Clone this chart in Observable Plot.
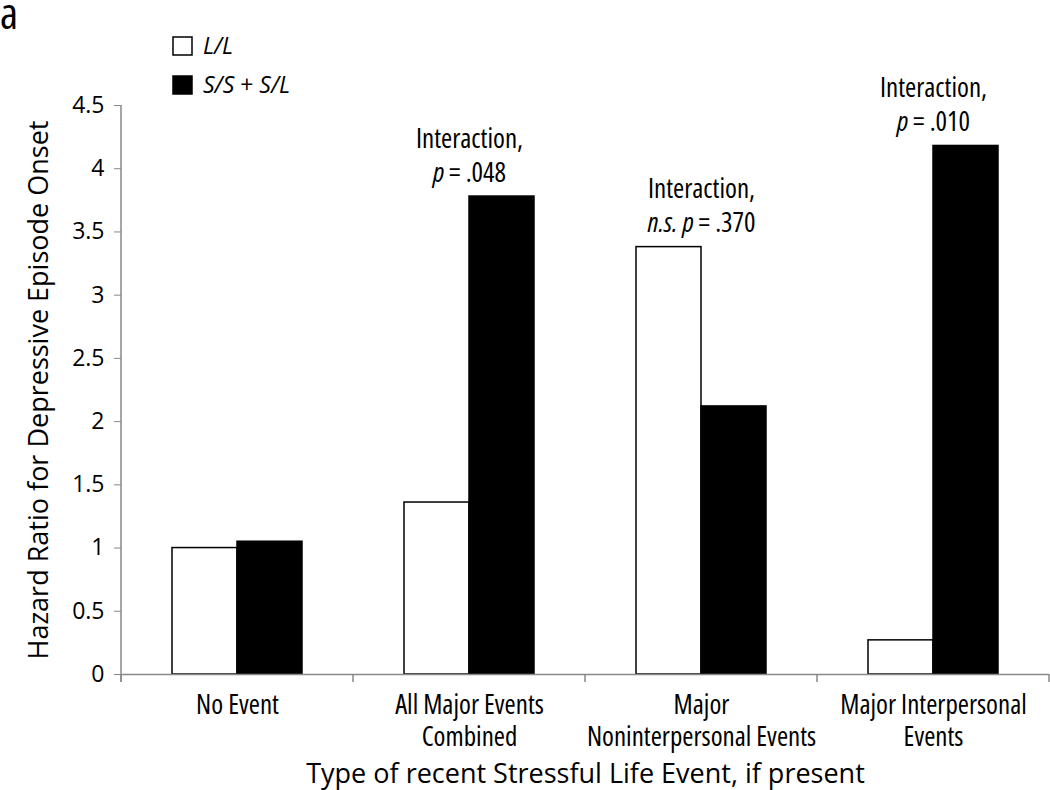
<!DOCTYPE html>
<html><head><meta charset="utf-8">
<script src="https://cdn.jsdelivr.net/npm/d3@7"></script>
<script src="https://cdn.jsdelivr.net/npm/@observablehq/plot@0.6"></script>
<style>
body{margin:0;background:#fff;}
svg { font-stretch: 75%; }
</style></head><body><div id="chart"></div>
<script>
const categories = ["No Event", "All Major Events\nCombined", "Major\nNoninterpersonal Events", "Major Interpersonal\nEvents"];
const genotypes = ["L/L", "S/S + S/L"];
const hazardLL = [1.00, 1.36, 3.38, 0.27];
const hazardSS = [1.05, 3.78, 2.12, 4.18];
const yTicks = [0, 0.5, 1, 1.5, 2, 2.5, 3, 3.5, 4, 4.5];
const annotationCategories = [categories[1], categories[2], categories[3]];
const annotationTexts = ["Interaction,\np = .048", "Interaction,\nn.s. p = .370", "Interaction,\np = .010"];
const yLabel = "Hazard Ratio for Depressive Episode Onset";
const xLabel = "Type of recent Stressful Life Event, if present";
const panelLabel = "a";

const FONT_FAMILY = '"Open Sans","Liberation Sans Narrow","DejaVu Sans Condensed",Roboto,sans-serif';

const data = categories.flatMap((c, i) => [
  {category: c, genotype: genotypes[0], value: hazardLL[i]},
  {category: c, genotype: genotypes[1], value: hazardSS[i]}
]);
const annotations = annotationCategories.map((c, i) => {
  const k = categories.indexOf(c);
  return {category: c, text: annotationTexts[i], top: Math.max(hazardLL[k], hazardSS[k])};
});

const plot = Plot.plot({
  width: 1050, height: 790,
  marginLeft: 120, marginRight: 1, marginTop: 105, marginBottom: 116,
  style: {fontSize: "27px", fontFamily: FONT_FAMILY, color: "#000", background: "#fff", overflow: "visible"},
  fx: {domain: categories, padding: 0},
  x: {domain: genotypes, paddingInner: 0, paddingOuter: 0.76, axis: null},
  y: {domain: [0, 4.5]},
  color: {domain: genotypes, range: ["#fff", "#000"]},
  marks: [
    Plot.axisY({ticks: yTicks, tickFormat: d => String(d), tickSize: 7, tickPadding: 10, stroke: "#888",
      label: yLabel, labelAnchor: "center", labelOffset: 93, labelArrow: "none"}),
    Plot.axisFx({anchor: "bottom", tickSize: 0, tickPadding: 16, lineHeight: 1.2, fontSize: 27,
      label: xLabel, labelAnchor: "center", labelOffset: 108, labelArrow: "none"}),
    Plot.barY(data, {fx: "category", x: "genotype", y: "value", fill: "genotype", stroke: "#000", strokeWidth: 1.5}),
    Plot.ruleY([0], {stroke: "#888", strokeWidth: 1.5}),
    Plot.text(annotations, {fx: "category", y: "top", text: "text", lineAnchor: "bottom", dy: -15,
      lineHeight: 1.26, fontSize: 27, className: "anno"})
  ]
});

document.getElementById("chart").appendChild(plot);

const svg = d3.select(plot);
svg.selectAll('[aria-label="y-axis tick label"]').style("font-size", "23px").style("font-stretch", "100%");
svg.selectAll('[aria-label="y-axis label"], [aria-label="fx-axis label"]')
  .style("font-size", "27px").style("font-stretch", "100%");

const fxS = plot.scale("fx"), yS = plot.scale("y");
const fxApply = fxS.apply ? fxS.apply : d3.scaleBand().domain(fxS.domain).range(fxS.range).padding(0);
const bw = fxS.bandwidth;
const edges = categories.map(c => fxApply(c)).concat([fxApply(categories[categories.length - 1]) + bw]);
const y0 = yS.apply ? yS.apply(0) : yS.range[0];
const yTop = yS.apply ? yS.apply(4.5) : yS.range[1];
const g = svg.append("g").attr("stroke", "#888").attr("stroke-width", 1.5);
g.append("line").attr("x1", edges[0]).attr("x2", edges[0]).attr("y1", yTop).attr("y2", y0 + 8);
edges.forEach(x => g.append("line").attr("x1", x).attr("x2", x).attr("y1", y0).attr("y2", y0 + 8));

function styled(el, str, re) {
  el.text(null);
  str.split(re).forEach((part, i) => {
    if (!part) return;
    const t = el.append("tspan").text(part);
    if (i % 2 === 1) t.attr("font-style", "italic");
  });
}
svg.selectAll(".anno tspan").each(function() {
  const s = this.textContent;
  if (/p =/.test(s)) styled(d3.select(this), s, /(n\.s\.|\bp\b)/);
});

svg.append("text").attr("x", 0).attr("y", 29).attr("text-anchor", "start")
  .attr("font-size", 44).attr("font-family", FONT_FAMILY).text(panelLabel);

const legend = svg.append("g").attr("font-family", FONT_FAMILY).attr("font-size", 23)
  .attr("text-anchor", "start").style("font-stretch", "100%");
genotypes.forEach((gname, i) => {
  const yy = 37 + i * 39;
  legend.append("rect").attr("x", 173).attr("y", yy).attr("width", 19).attr("height", 18)
    .attr("fill", i === 0 ? "#fff" : "#000").attr("stroke", "#000").attr("stroke-width", 1.5);
  const t = legend.append("text").attr("x", 203).attr("y", yy + 17);
  styled(t, gname, /(S\/S|S\/L|L\/L)/);
});
</script></body></html>
